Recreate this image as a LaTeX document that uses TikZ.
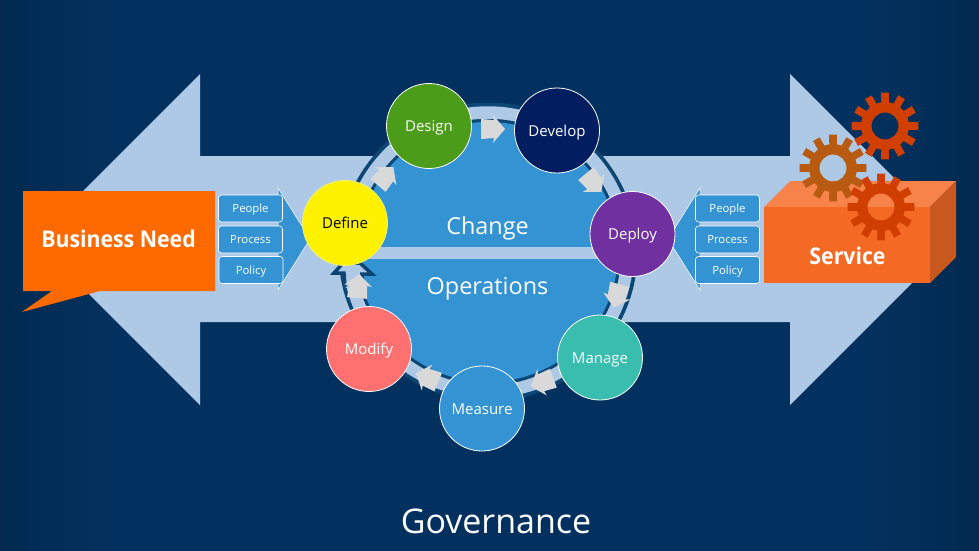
\documentclass[tikz,border=0pt]{standalone}
\usepackage{fontspec}
\setmainfont{Open Sans}
\newfontfamily\narrowbold[FakeStretch=0.925]{Open Sans}
\definecolor{bgedge}{HTML}{022A50}
\definecolor{bgmid}{HTML}{03315F}
\definecolor{lightband}{HTML}{AEC9E6}
\definecolor{discblue}{HTML}{3494D3}
\definecolor{ringdark}{HTML}{0B4674}
\definecolor{callout}{HTML}{FF6A00}
\definecolor{gearred}{HTML}{D03E00}
\definecolor{gearbrown}{HTML}{B85A10}
\definecolor{boxfront}{HTML}{F46A24}
\definecolor{boxtop}{HTML}{F7824A}
\definecolor{boxside}{HTML}{C9581F}
\definecolor{arrowgrey}{HTML}{D9D9D9}
\pgfdeclarehorizontalshading{bgband}{100bp}{color(0bp)=(bgedge);color(25bp)=(bgedge);color(31bp)=(bgmid);color(69bp)=(bgmid);color(75bp)=(bgedge);color(100bp)=(bgedge)}
\tikzset{
  stage/.style={circle,draw=white,line width=0.8pt,minimum size=85pt,inner sep=0pt,font=\fontsize{15}{16}\selectfont,text=white,text height=11pt,text depth=0pt},
  tagbox/.style={draw=white,line width=0.6pt,fill=discblue,rounded corners=3pt,minimum width=64pt,minimum height=27pt,inner sep=0pt,text=white,font=\fontsize{11.3}{12}\selectfont,text height=8pt,text depth=0pt},
  sidearrow/.style={fill=discblue,draw=white,line width=0.5pt},
  bigword/.style={text=white,font=\fontsize{23.4}{28}\selectfont,inner sep=0pt,text height=17pt,text depth=0pt},
  boldword/.style={text=white,font=\narrowbold\bfseries\fontsize{23}{26}\selectfont,inner sep=0pt,text height=16.5pt,text depth=0pt},
  flow/.style={fill=arrowgrey}
}
\newcommand{\gearshape}[4]{%
  \fill[#4,even odd rule] ({#1+24*cos(-9)},{#2+24*sin(-9)})
    foreach \t in {0,...,11} {
      -- ({#1+24*cos(\t*30-9)},{#2+24*sin(\t*30-9)})
      -- ({#1+#3*cos(\t*30-6.5)},{#2+#3*sin(\t*30-6.5)})
      -- ({#1+#3*cos(\t*30+6.5)},{#2+#3*sin(\t*30+6.5)})
      -- ({#1+24*cos(\t*30+9)},{#2+24*sin(\t*30+9)})
    } -- cycle ({#1},{#2}) circle (13.5);}
\newcommand{\flowarrow}[3]{%
  \fill[flow,shift={(#1,#2)},rotate=#3] (-11,-10) -- (2,-9) -- (1,-14) -- (13,0) -- (1,14) -- (2,9) -- (-11,10) -- cycle;}
\begin{document}
\begin{tikzpicture}[x=1pt,y=-1pt]
\useasboundingbox (0,0) rectangle (979,551);
\shade[shading=bgband] (0,0) rectangle (979,551);
% double arrow
\fill[lightband] (34.5,239.5) -- (200,74) -- (200,156) -- (790,156) -- (790,74) -- (955.5,239.5) -- (790,405) -- (790,322) -- (200,322) -- (200,405) -- cycle;
% ring
\draw[ringdark,line width=20pt] (488,252) circle (139.5);
\draw[lightband,line width=12.5pt] (488,252) circle (139.5);
\fill[discblue] (488,252) circle (130);
% stripe
\fill[lightband] (350,247) rectangle (625,259);
% ring arrowhead
\fill[lightband] (345,287) -- (344,273) -- (334,273) -- (343,263) -- (360,263) -- (372,274) -- (362,274) -- (364,297) -- cycle;
\draw[ringdark,line width=3.5pt,line join=miter] (345,287) -- (344,273) -- (334,273) -- (343,263) -- (360,263) -- (372,274) -- (362,274) -- (364,297);
% side arrows
\draw[sidearrow] (278,188) -- (310,239) -- (278,290) -- cycle;
\draw[sidearrow] (700,188) -- (668,239) -- (700,290) -- cycle;
\node[tagbox] (lpeople) at (250.5,208.5) {People};
\node[tagbox] (lprocess) at (250.5,239.5) {Process};
\node[tagbox] (lpolicy) at (251,270) {Policy};
\node[tagbox] (rpeople) at (727.5,208.5) {People};
\node[tagbox] (rprocess) at (727.5,239.5) {Process};
\node[tagbox] (rpolicy) at (727.5,270) {Policy};
% flow arrows
\flowarrow{385}{177}{50}
\flowarrow{492}{129}{0}
\flowarrow{593}{182}{-50}
\flowarrow{617}{295}{-105}
\flowarrow{543}{382}{200}
\flowarrow{428}{378}{158}
\flowarrow{358}{287}{85}
% stages
\node[stage,fill={rgb,255:red,75;green,156;blue,24}] (design) at (429,126) {Design};
\node[stage,fill={rgb,255:red,2;green,30;blue,96}] (develop) at (557,130.5) {Develop};
\node[stage,fill={rgb,255:red,112;green,48;blue,160}] (deploy) at (632.5,234) {Deploy};
\node[stage,fill={rgb,255:red,56;green,189;blue,175}] (manage) at (600,357.5) {Manage};
\node[stage,fill=discblue] (measure) at (482,408.5) {Measure};
\node[stage,fill={rgb,255:red,255;green,112;blue,112}] (modify) at (369,349) {Modify};
\node[stage,draw={rgb,255:red,240;green,240;blue,120},fill=yellow,text=black] (define) at (345,223) {Define};
% centre words
\node[bigword] (change) at (487.5,226) {Change};
\node[bigword] (operations) at (487.5,286) {Operations};
\node[text=white,font=\fontsize{34}{38}\selectfont,inner sep=0pt,text height=24pt,text depth=0pt] (governance) at (496,521) {Governance};
% callout
\fill[callout] (23,191) -- (215,191) -- (215,291) -- (100,291) -- (22,312) -- (52,291) -- (23,291) -- cycle;
\node[boldword] (need) at (118.5,239) {Business Need};
% service box
\fill[boxtop] (764,207) -- (790,181) -- (956,181) -- (930,207) -- cycle;
\fill[boxside] (930,207) -- (956,181) -- (956,257) -- (930,283) -- cycle;
\fill[boxfront] (764,207) rectangle (930,283);
% gears
\gearshape{885}{126}{33.5}{gearred}
\gearshape{833}{168}{33.5}{gearbrown}
\gearshape{881}{207}{33.5}{gearred}
\node[boldword] (service) at (847.5,256) {Service};
\end{tikzpicture}
\end{document}
